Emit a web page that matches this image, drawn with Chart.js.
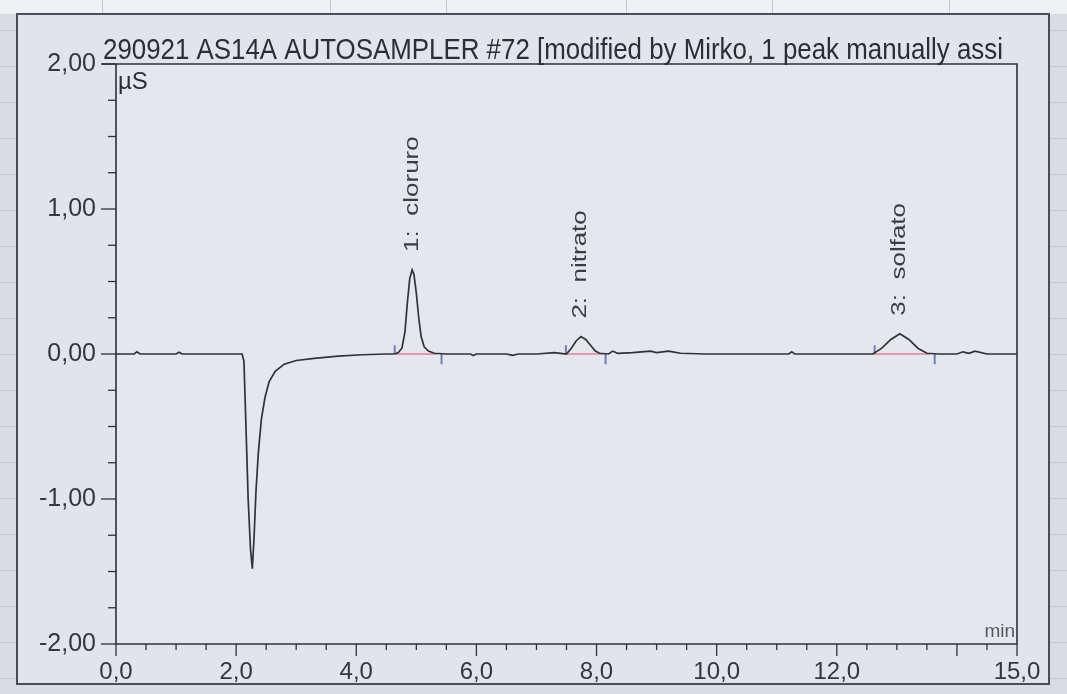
<!DOCTYPE html>
<html>
<head>
<meta charset="utf-8">
<script src="https://cdn.jsdelivr.net/npm/chart.js@4/dist/chart.umd.min.js"></script>
<style>
  html, body { margin: 0; padding: 0; background: #d9dce3; }
  #wrap { width: 1067px; height: 694px; }
</style>
</head>
<body>
<div id="wrap"><canvas id="chromatogram" width="1067" height="694"></canvas></div>
<script>
// Chromatogram: retention time (min) vs conductivity (µS)
const timeMin = [0, 0.3, 0.35, 0.4, 1.0, 1.05, 1.1, 2.10, 2.13, 2.16, 2.20, 2.24, 2.27, 2.30, 2.33, 2.37,
    2.42, 2.48, 2.55, 2.65, 2.8, 3.0, 3.3, 3.7, 4.1, 4.5, 4.64, 4.70, 4.76, 4.81, 4.85, 4.89, 4.93, 4.96,
    5.00, 5.04, 5.08, 5.13, 5.2, 5.3, 5.5, 5.9, 5.95, 6.0, 6.5, 6.6, 6.7, 7.0, 7.3, 7.5, 7.58, 7.66, 7.74,
    7.82, 7.90, 7.98, 8.05, 8.2, 8.27, 8.35, 8.6, 8.9, 9.0, 9.2, 9.4, 9.8, 10.5, 11.0, 11.2, 11.25, 11.3,
    12.0, 12.6, 12.75, 12.9, 13.05, 13.2, 13.35, 13.5, 13.7, 14.0, 14.1, 14.2, 14.3, 14.5, 15.0];
const signalUs = [0, 0, 0.015, 0, 0, 0.012, 0, 0, -0.05, -0.45, -1.0, -1.35, -1.48, -1.25, -0.95, -0.68,
    -0.45, -0.30, -0.19, -0.12, -0.07, -0.045, -0.03, -0.015, -0.005, 0, 0, 0.01, 0.04, 0.15, 0.35, 0.52, 0.58, 0.55,
    0.42, 0.25, 0.12, 0.05, 0.02, 0.005, 0, 0, -0.01, 0, 0, -0.01, 0, 0, 0.01, 0, 0.04, 0.09, 0.12,
    0.10, 0.06, 0.02, 0.005, 0, 0.02, 0.005, 0.01, 0.02, 0.01, 0.02, 0.005, 0, 0, 0, 0, 0.015, 0,
    0, 0, 0.04, 0.10, 0.14, 0.10, 0.04, 0.005, 0, 0, 0.015, 0.005, 0.02, 0, 0];

// Peak names and apexes
const peakNames = ['1:  cloruro', '2:  nitrato', '3:  solfato'];
const peakTimes = [4.93, 7.74, 13.05];
const peakHeights = [0.58, 0.12, 0.14];

// Integration baselines and peak delimiters
const baseStart = [4.66, 7.52, 12.6];
const baseEnd = [5.35, 8.1, 13.55];
const markStart = [4.64, 7.49, 12.63];
const markEnd = [5.42, 8.15, 13.63];

const xLabelled = [0, 2, 4, 6, 8, 10, 12, 15];

const FONT = '"Liberation Sans", Arial, sans-serif';

function segments(starts, ends, y0) {
    const pts = [];
    starts.forEach((s, i) => {
        pts.push({ x: s, y: y0 }, { x: ends[i], y: y0 }, { x: ends[i], y: null });
    });
    return pts;
}
function ticksMarks(times, len) {
    const pts = [];
    for (const t of times) pts.push({ x: t, y: 0 }, { x: t, y: len }, { x: t, y: null });
    return pts;
}

const backdrop = {
    id: 'backdrop',
    beforeDraw(chart) {
        const c = chart.ctx;
        c.save();
        c.fillStyle = '#d9dce3';
        c.fillRect(0, 0, 1067, 694);
        // top strip of the spreadsheet behind the window
        c.fillStyle = '#eff0f3';
        c.fillRect(0, 0, 1067, 14);
        c.strokeStyle = '#c4c8cf';
        c.lineWidth = 1;
        for (const gx of [102, 330, 446, 626, 772, 949]) {
            c.beginPath(); c.moveTo(gx + 0.5, 0); c.lineTo(gx + 0.5, 14); c.stroke();
        }
        for (let gy = 30; gy < 694; gy += 36) {
            c.beginPath(); c.moveTo(0, gy + 0.5); c.lineTo(16, gy + 0.5); c.stroke();
            c.beginPath(); c.moveTo(1050, gy + 0.5); c.lineTo(1067, gy + 0.5); c.stroke();
        }
        // window
        c.fillStyle = '#e1e4eb';
        c.fillRect(17, 14, 1032, 670);
        c.strokeStyle = '#4a4d55';
        c.lineWidth = 2;
        c.strokeRect(17, 14, 1032, 670);
        const a = chart.chartArea;
        c.fillStyle = '#e5e7ee';
        c.fillRect(a.left, a.top, a.right - a.left, a.bottom - a.top);
        c.restore();
    }
};

const frame = {
    id: 'frame',
    afterDraw(chart) {
        const c = chart.ctx, a = chart.chartArea;
        const xs = chart.scales.x, ys = chart.scales.y;
        c.save();
        c.strokeStyle = '#2f3238';
        c.lineWidth = 1.6;
        c.beginPath();
        c.moveTo(a.left - 14, a.top); c.lineTo(a.right, a.top); c.lineTo(a.right, a.bottom);
        c.lineTo(a.left, a.bottom); c.lineTo(a.left, a.top);
        c.stroke();

        c.lineWidth = 1.3;
        for (const t of ys.ticks) {
            const py = ys.getPixelForValue(t.value);
            const len = Number.isInteger(t.value) ? 15 : 8;
            c.beginPath(); c.moveTo(a.left - len, py); c.lineTo(a.left, py); c.stroke();
        }
        for (const t of xs.ticks) {
            const px = xs.getPixelForValue(t.value);
            const len = xLabelled.includes(t.value) || Number.isInteger(t.value / 2) ? 12 : 6;
            c.beginPath(); c.moveTo(px, a.bottom); c.lineTo(px, a.bottom + len); c.stroke();
        }

        c.fillStyle = '#2b2e34';
        c.font = '30px ' + FONT;
        c.textBaseline = 'alphabetic';
        c.textAlign = 'left';
        c.fillText('290921 AS14A AUTOSAMPLER #72 [modified by Mirko, 1 peak manually assi', 103, a.top - 5, 900);

        c.font = '24px ' + FONT;
        c.textBaseline = 'top';
        c.fillText('µS', a.left + 2, a.top + 6);

        c.fillStyle = '#555860';
        c.font = '19px ' + FONT;
        c.textAlign = 'right';
        c.textBaseline = 'bottom';
        c.fillText('min', a.right - 2, a.bottom - 3);

        // peak names, written upwards and stretched like the photo
        c.fillStyle = '#3a3d44';
        c.font = '20px ' + FONT;
        c.textAlign = 'left';
        c.textBaseline = 'middle';
        peakNames.forEach((name, i) => {
            const px = xs.getPixelForValue(peakTimes[i]);
            const py = ys.getPixelForValue(peakHeights[i]) - 18;
            c.save();
            c.translate(px, py);
            c.rotate(-Math.PI / 2);
            c.scale(1.3, 1);
            c.fillText(name, 0, 0);
            c.restore();
        });
        c.restore();
    }
};

new Chart(document.getElementById('chromatogram'), {
    type: 'line',
    data: {
        datasets: [
            { label: 'signal', data: timeMin.map((t, i) => ({ x: t, y: signalUs[i] })), borderColor: '#2f3239', borderWidth: 1.7, pointRadius: 0, tension: 0, order: 0 },
            { label: 'baseline', data: segments(baseStart, baseEnd, 0), borderColor: 'rgba(226,128,140,0.75)', borderWidth: 2, pointRadius: 0, spanGaps: false, order: 2 },
            { label: 'start', data: ticksMarks(markStart, 0.06), borderColor: '#6d7fb2', borderWidth: 2, pointRadius: 0, spanGaps: false, order: 1 },
            { label: 'end', data: ticksMarks(markEnd, -0.07), borderColor: '#6d7fb2', borderWidth: 2, pointRadius: 0, spanGaps: false, order: 1 }
        ]
    },
    options: {
        responsive: false,
        animation: false,
        layout: { padding: { top: 64, right: 50, left: 0, bottom: 0 } },
        plugins: { legend: { display: false }, tooltip: { enabled: false } },
        scales: {
            x: {
                type: 'linear', min: 0, max: 15,
                afterFit: s => { s.height = 50; },
                grid: { display: false, drawTicks: false },
                border: { display: false },
                ticks: {
                    stepSize: 0.5, autoSkip: false, maxRotation: 0, padding: 14,
                    color: '#34373d', font: { size: 24, family: FONT },
                    callback: v => xLabelled.includes(v) ? v.toFixed(1).replace('.', ',') : ''
                }
            },
            y: {
                min: -2, max: 2,
                afterFit: s => { s.width = 116; },
                grid: { display: false, drawTicks: false },
                border: { display: false },
                ticks: {
                    stepSize: 0.25, autoSkip: false, padding: 20,
                    color: '#34373d', font: { size: 25, family: FONT },
                    callback: v => Number.isInteger(v) ? v.toFixed(2).replace('.', ',') : ''
                }
            }
        }
    },
    plugins: [backdrop, frame]
});
</script>
</body>
</html>
